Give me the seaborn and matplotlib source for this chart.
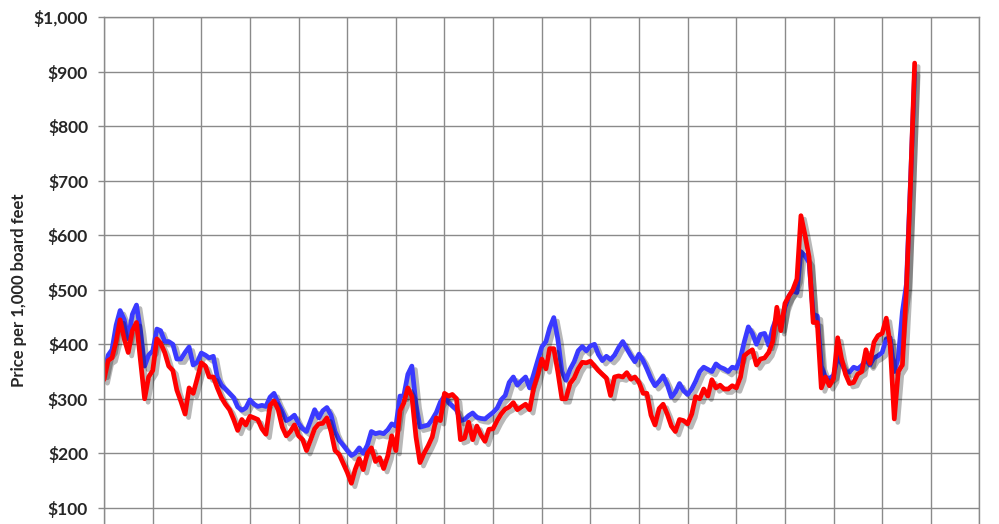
import numpy as np
import pandas as pd
import matplotlib
matplotlib.use("Agg")
import matplotlib.pyplot as plt
import matplotlib.dates as mdates
import matplotlib.patheffects as pe
from matplotlib.ticker import FuncFormatter
import seaborn as sns


# monthly values, Jan 2004 .. Sep 2020
START_MONTH = "2004-01-01"

composite_prices = [
    345, 380, 390, 435, 462, 445, 410, 455, 472, 425,
    360, 380, 388, 428, 425, 405, 405, 400, 373, 373,
    385, 395, 362, 367, 384, 380, 375, 378, 340, 325,
    318, 310, 302, 285, 279, 283, 298, 290, 286, 288,
    286, 303, 310, 292, 277, 260, 264, 270, 255, 245,
    240, 260, 280, 265, 278, 284, 270, 240, 224, 215,
    205, 196, 200, 210, 200, 215, 240, 236, 238, 236,
    243, 254, 250, 305, 305, 345, 360, 290, 248, 250,
    252, 262, 275, 294, 305, 293, 287, 280, 260, 262,
    269, 274, 266, 264, 263, 269, 275, 283, 298, 306,
    330, 340, 325, 333, 340, 320, 345, 370, 395, 405,
    430, 449, 410, 350, 334, 354, 368, 388, 396, 388,
    397, 400, 382, 370, 378, 372, 380, 394, 405, 392,
    379, 368, 382, 370, 355, 337, 324, 332, 342, 326,
    303, 312, 328, 315, 308, 318, 332, 350, 358, 354,
    350, 364, 358, 355, 350, 358, 356, 375, 404, 432,
    420, 400, 418, 420, 398, 430, 450, 430, 468, 489,
    498, 495, 570, 562, 550, 455, 452, 360, 340, 337,
    343, 378, 365, 350, 349, 358, 355, 361, 372, 362,
    375, 379, 385, 410, 412, 350, 375, 460, 510, 700, 900,
]

futures_prices = [
    335, 370, 375, 405, 445, 410, 385, 425, 440, 370,
    300, 340, 352, 410, 402, 385, 360, 352, 316, 295,
    272, 320, 310, 337, 366, 360, 340, 340, 320, 302,
    290, 280, 262, 242, 262, 252, 268, 265, 262, 245,
    235, 288, 296, 280, 248, 232, 240, 252, 232, 225,
    205, 225, 245, 254, 255, 265, 240, 205, 198, 182,
    165, 145, 170, 190, 170, 200, 210, 185, 192, 172,
    195, 232, 205, 278, 292, 320, 305, 230, 183, 200,
    214, 230, 265, 260, 310, 305, 308, 300, 225, 228,
    257, 225, 250, 234, 222, 244, 245, 260, 272, 281,
    285, 293, 280, 285, 290, 280, 320, 343, 373, 355,
    392, 392, 350, 300, 300, 328, 338, 355, 367, 366,
    369, 360, 352, 345, 338, 306, 340, 342, 340, 348,
    336, 340, 330, 310, 310, 270, 252, 282, 290, 272,
    250, 240, 262, 260, 254, 272, 304, 300, 318, 305,
    335, 320, 325, 318, 318, 324, 320, 340, 379, 385,
    390, 362, 373, 375, 385, 405, 468, 425, 475, 489,
    500, 520, 636, 600, 560, 440, 440, 320, 340, 324,
    337, 412, 375, 345, 328, 330, 345, 350, 390, 365,
    404, 416, 420, 448, 400, 263, 350, 362, 500, 697, 916,
]

series_names = ["Framing Lumber", "Lumber Futures"]
series_colors = ["#3a3aff", "#ff0000"]
y_ticks = list(range(100, 1001, 100))
y_label = "Price per 1,000 board feet"


def build_frame() -> pd.DataFrame:
    dates = pd.date_range(START_MONTH, periods=len(composite_prices), freq="MS")
    blue = pd.DataFrame({"date": dates, "price": composite_prices, "series": series_names[0]})
    red = pd.DataFrame({"date": dates, "price": futures_prices, "series": series_names[1]})
    return pd.concat([blue, red], ignore_index=True)


data = build_frame()

sns.set_theme(style="white")
plt.rcParams["font.family"] = ["Lato", "DejaVu Sans"]

fig = plt.figure(figsize=(9.99, 5.24), dpi=100)
# axes runs from $0 (below the visible area) to $1,000
ax = fig.add_axes([104 / 999, 1 - 562.3 / 524, 875.5 / 999, 545.0 / 524])

sns.lineplot(
    data=data,
    x="date",
    y="price",
    hue="series",
    palette=series_colors,
    linewidth=3.4,
    legend=False,
    ax=ax,
)

for line in ax.get_lines():
    line.set_path_effects([
        pe.SimpleLineShadow(offset=(2.5, -2.5), shadow_color="black", alpha=0.28),
        pe.Normal(),
    ])
    line.set_solid_joinstyle("round")
    line.set_solid_capstyle("round")

ax.set_xlim(pd.Timestamp("2004-01-01"), pd.Timestamp("2022-01-01"))
ax.set_ylim(0, 1000)
ax.xaxis.set_major_locator(mdates.YearLocator(1))
ax.set_xticklabels([])
ax.set_yticks(y_ticks)
ax.yaxis.set_major_formatter(FuncFormatter(lambda v, _: f"${v:,.0f}"))

grid_color = "#8a8a8a"
ax.grid(True, color=grid_color, linewidth=1.0)
ax.set_axisbelow(True)
for side in ["left", "right", "top"]:
    ax.spines[side].set_color(grid_color)
    ax.spines[side].set_linewidth(1.0)
ax.spines["bottom"].set_visible(False)

ax.tick_params(axis="y", direction="out", length=4.5, width=1.0, color=grid_color,
               pad=7, labelsize=12.5, left=True)
ax.tick_params(axis="x", length=0)
for label in ax.get_yticklabels():
    label.set_fontweight("bold")

ax.set_xlabel("")
ax.set_ylabel(y_label, fontsize=12, fontweight="bold", labelpad=5)

fig.savefig("out.png", dpi=100)
plt.close(fig)
